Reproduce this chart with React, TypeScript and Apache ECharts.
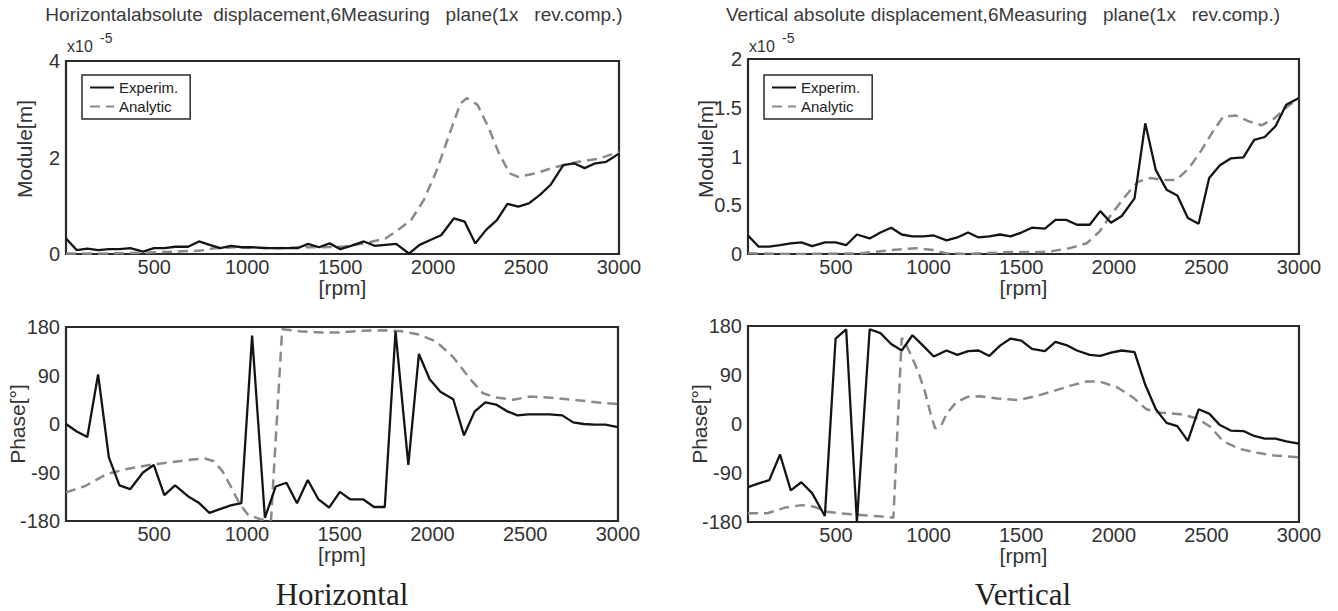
import React, { useEffect, useRef } from "react";
import * as echarts from "echarts";

// Measured run-up speeds [rpm] (experimental, shared by all panels)
const rpmExp = [25, 83, 140, 198, 256, 313, 371, 440, 498, 555, 613, 682, 740, 798, 855, 913, 970, 1028, 1097, 1155, 1213, 1270, 1328, 1386, 1443, 1501, 1558, 1628, 1685, 1743, 1801, 1870, 1927, 1985, 2043, 2112, 2170, 2227, 2285, 2343, 2400, 2458, 2515, 2573, 2631, 2700, 2758, 2815, 2873, 2931, 3000];

// Horizontal module [x1e-5 m]
const horExpModule = [0.32, 0.08, 0.11, 0.08, 0.1, 0.1, 0.12, 0.05, 0.12, 0.12, 0.15, 0.15, 0.26, 0.19, 0.12, 0.17, 0.14, 0.14, 0.12, 0.12, 0.12, 0.12, 0.21, 0.14, 0.22, 0.1, 0.17, 0.26, 0.17, 0.19, 0.21, 0.01, 0.19, 0.29, 0.39, 0.74, 0.67, 0.22, 0.5, 0.7, 1.04, 0.98, 1.05, 1.22, 1.43, 1.84, 1.88, 1.78, 1.88, 1.91, 2.08];
const horAnaModuleRpm = [25, 244, 475, 751, 821, 936, 1166, 1282, 1397, 1512, 1628, 1743, 1812, 1881, 1950, 2020, 2089, 2147, 2181, 2239, 2296, 2354, 2412, 2458, 2550, 2665, 2781, 2896, 3000];
const horAnaModule = [0.01, 0.01, 0.03, 0.07, 0.12, 0.14, 0.12, 0.14, 0.14, 0.15, 0.22, 0.32, 0.5, 0.7, 1.12, 1.74, 2.5, 3.12, 3.23, 3.09, 2.64, 2.09, 1.67, 1.6, 1.67, 1.81, 1.91, 1.98, 2.12];

// Horizontal phase [deg]
const horExpPhase = [0, -14, -24, 92, -62, -114, -121, -90, -76, -132, -114, -134, -146, -165, -158, -151, -147, 164, -174, -116, -109, -147, -104, -140, -155, -126, -140, -140, -154, -154, 172, -76, 130, 83, 60, 46, -21, 23, 40, 36, 24, 16, 18, 18, 18, 16, 3, 0, -1, -1, -6];
const horAnaPhaseRpm = [25, 129, 244, 359, 475, 590, 705, 774, 821, 867, 913, 959, 1005, 1074, 1130, 1190, 1282, 1397, 1512, 1628, 1743, 1835, 1927, 2020, 2112, 2204, 2273, 2343, 2435, 2527, 2665, 2781, 2896, 3000];
const horAnaPhase = [-127, -115, -93, -83, -76, -71, -66, -64, -69, -87, -116, -147, -168, -177, -178, 176, 172, 170, 170, 173, 174, 172, 166, 153, 124, 83, 57, 49, 45, 51, 48, 44, 40, 37];

// Vertical module [x1e-5 m]
const verExpModule = [0.19, 0.075, 0.075, 0.09, 0.11, 0.12, 0.08, 0.12, 0.12, 0.09, 0.2, 0.16, 0.22, 0.27, 0.2, 0.18, 0.18, 0.19, 0.14, 0.17, 0.22, 0.17, 0.18, 0.2, 0.18, 0.22, 0.27, 0.26, 0.35, 0.35, 0.3, 0.3, 0.44, 0.32, 0.39, 0.57, 1.34, 0.86, 0.66, 0.6, 0.37, 0.31, 0.78, 0.91, 0.98, 0.99, 1.17, 1.2, 1.31, 1.53, 1.6];
const verAnaModuleRpm = [25, 290, 635, 796, 934, 1026, 1095, 1210, 1440, 1601, 1670, 1762, 1854, 1923, 1992, 2061, 2130, 2199, 2268, 2337, 2406, 2475, 2533, 2591, 2660, 2729, 2798, 2867, 2936, 3000];
const verAnaModule = [0.007, 0, 0.007, 0.04, 0.06, 0.04, 0.007, 0, 0.02, 0.02, 0.03, 0.06, 0.11, 0.23, 0.42, 0.59, 0.74, 0.78, 0.76, 0.76, 0.88, 1.07, 1.25, 1.41, 1.42, 1.36, 1.32, 1.39, 1.51, 1.6];

// Vertical phase [deg]
const verExpPhase = [-116, -109, -103, -56, -122, -107, -127, -169, 157, 174, -180, 174, 167, 147, 135, 163, 144, 124, 135, 127, 134, 135, 125, 144, 157, 153, 138, 134, 151, 145, 135, 127, 125, 131, 135, 132, 72, 27, 2, -4, -31, 27, 19, -2, -12, -13, -22, -27, -27, -32, -36];
const verAnaPhaseRpm = [25, 129, 221, 313, 382, 451, 520, 635, 750, 810, 855, 876, 911, 945, 980, 1010, 1035, 1065, 1100, 1150, 1210, 1279, 1371, 1486, 1578, 1670, 1762, 1854, 1923, 2015, 2107, 2176, 2245, 2360, 2452, 2521, 2591, 2683, 2775, 2867, 3000];
const verAnaPhase = [-164, -164, -154, -149, -152, -161, -164, -167, -170, -172, 158, 148, 122, 95, 60, 20, -8, -5, 20, 40, 50, 51, 47, 44, 51, 60, 70, 78, 78, 68, 48, 27, 21, 18, 10, -5, -32, -46, -53, -58, -61];

const rpmTicks = [500, 1000, 1500, 2000, 2500, 3000];
const seriesNames = ["Experim.", "Analytic"];
const titleHor = "Horizontalabsolute  displacement,6Measuring   plane(1x   rev.comp.)";
const titleVer = "Vertical absolute displacement,6Measuring   plane(1x   rev.comp.)";
const moduleName = "Module[m]";
const phaseName = "Phase[°]";

const SANS = '"Liberation Sans", Arial, Helvetica, sans-serif';
const SERIF = '"Liberation Serif", "Times New Roman", serif';

const zip = (xs: number[], ys: number[]) => xs.map((x, i) => [x, ys[i]]);

export default function App() {
  const ref = useRef<HTMLDivElement>(null);
  useEffect(() => {
    const chart = echarts.init(ref.current!, null, { renderer: "svg" });
    const grids = [
      { left: 66, top: 61, width: 553, height: 193 },
      { left: 748, top: 59, width: 551, height: 195 },
      { left: 66, top: 327, width: 552, height: 194 },
      { left: 748, top: 326, width: 551, height: 196 },
    ].map((g) => ({ ...g, show: true, borderColor: "#2a2a2a", borderWidth: 2.2, backgroundColor: "transparent" }));

    const xAxes = grids.map((_, i) => ({
      type: "value",
      gridIndex: i,
      min: 25,
      max: 3000,
      axisLine: { show: false },
      axisTick: { show: false, customValues: rpmTicks },
      splitLine: { show: false },
      axisLabel: {
        customValues: rpmTicks,
        fontSize: 20,
        color: "#333",
        margin: 3,
        fontFamily: SANS,
        formatter: (v: number) => String(v),
      },
      name: "[rpm]",
      nameLocation: "middle",
      nameGap: 23,
      nameMoveOverlap: false,
      nameTextStyle: { fontSize: 21, color: "#333", fontFamily: SANS },
    }));

    const yCfg = [
      { min: 0, max: 4, interval: 2, name: "", gap: 33 },
      { min: 0, max: 2, interval: 0.5, name: "", gap: 34 },
      { min: -180, max: 180, interval: 90, name: phaseName, gap: 38 },
      { min: -180, max: 180, interval: 90, name: phaseName, gap: 38 },
    ];
    const yAxes = yCfg.map((c, i) => ({
      type: "value",
      gridIndex: i,
      min: c.min,
      max: c.max,
      interval: c.interval,
      axisLine: { show: false },
      axisTick: { show: false },
      splitLine: { show: false },
      axisLabel: { fontSize: 20, color: "#333", margin: 6, fontFamily: SANS },
      name: c.name,
      nameLocation: "middle",
      nameGap: c.gap,
      nameMoveOverlap: false,
      nameTextStyle: { fontSize: 21, color: "#333", fontFamily: SANS },
    }));

    const expStyle = { color: "#141414", width: 2.3, type: "solid" };
    const anaStyle = { color: "#8a8a8a", width: 2.5, type: [10, 6] };
    const mk = (name: string, idx: number, data: number[][], style: any) => ({
      type: "line",
      name,
      xAxisIndex: idx,
      yAxisIndex: idx,
      data,
      symbol: "none",
      showSymbol: false,
      lineStyle: style,
      itemStyle: { color: style.color },
      z: name === "Experim." ? 3 : 2,
    });

    const series = [
      mk("Analytic", 0, zip(horAnaModuleRpm, horAnaModule), anaStyle),
      mk("Experim.", 0, zip(rpmExp, horExpModule), expStyle),
      mk("Analytic", 1, zip(verAnaModuleRpm, verAnaModule), anaStyle),
      mk("Experim.", 1, zip(rpmExp, verExpModule), expStyle),
      mk("Analytic", 2, zip(horAnaPhaseRpm, horAnaPhase), anaStyle),
      mk("Experim.", 2, zip(rpmExp, horExpPhase), expStyle),
      mk("Analytic", 3, zip(verAnaPhaseRpm, verAnaPhase), anaStyle),
      mk("Experim.", 3, zip(rpmExp, verExpPhase), expStyle),
    ];

    const legendBase = {
      data: seriesNames,
      orient: "vertical",
      top: 75,
      borderColor: "#2a2a2a",
      borderWidth: 1.5,
      backgroundColor: "#fff",
      padding: [5, 12, 5, 7],
      itemWidth: 24,
      itemHeight: 14,
      itemGap: 4,
      itemTextGap: 4,
      selectedMode: false,
      itemStyle: { color: "rgba(0,0,0,0)", borderColor: "rgba(0,0,0,0)", borderWidth: 0, opacity: 0 },
      textStyle: { fontSize: 15, color: "#222", fontFamily: SANS },
      z: 10,
    };

    const txt = (text: string, x: number, y: number, font: string, align = "center", fill = "#333", rotation = 0) => ({
      type: "text",
      x,
      y,
      rotation,
      silent: true,
      style: { text, font, fill, align, verticalAlign: "middle", textAlign: align, textVerticalAlign: "middle" },
    });

    chart.setOption({
      animation: false,
      backgroundColor: "#ffffff",
      grid: grids,
      xAxis: xAxes,
      yAxis: yAxes,
      legend: [
        { ...legendBase, left: 82 },
        { ...legendBase, left: 764 },
      ],
      series,
      graphic: [
        txt(titleHor, 334, 14, `19px ${SANS}`, "center", "#3a3a3a"),
        txt(titleVer, 1003, 14, `19px ${SANS}`, "center", "#3a3a3a"),
        txt("x10", 67, 46, `16px ${SANS}`, "left"),
        txt("-5", 100, 38, `14px ${SANS}`, "left"),
        txt("x10", 749, 46, `16px ${SANS}`, "left"),
        txt("-5", 782, 38, `14px ${SANS}`, "left"),
        txt(moduleName, 24, 149, `21px ${SANS}`, "center", "#333", Math.PI / 2),
        txt(moduleName, 705, 149, `21px ${SANS}`, "center", "#333", Math.PI / 2),
        txt("Horizontal", 342, 594, `31px ${SERIF}`, "center", "#222"),
        txt("Vertical", 1023, 594, `31px ${SERIF}`, "center", "#222"),
      ],
    });
    return () => chart.dispose();
  }, []);
  return <div ref={ref} style={{ position: "absolute", left: 0, top: 0, width: 1338, height: 611 }} />;
}
